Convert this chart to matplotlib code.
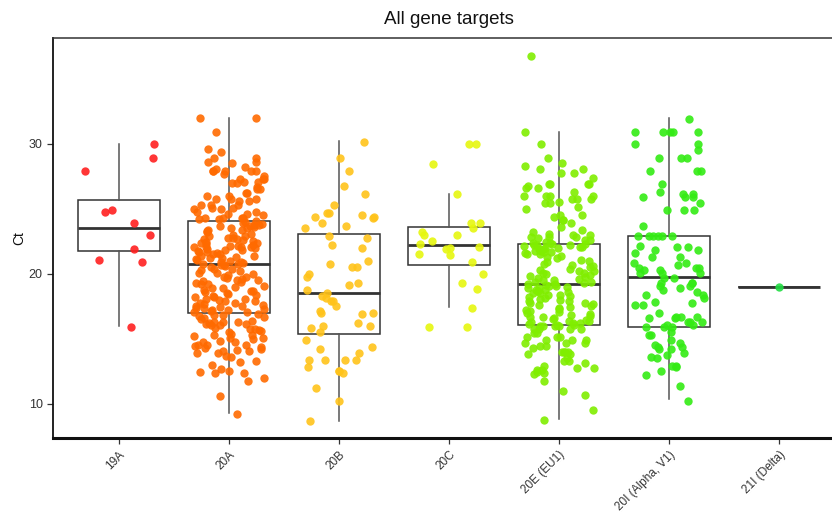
import matplotlib
matplotlib.use("Agg")
import matplotlib.pyplot as plt
import matplotlib.transforms as mtransforms
import numpy as np

plt.rcParams['font.family'] = ['Liberation Sans', 'DejaVu Sans']

categories = ['19A', '20A', '20B', '20C', '20E (EU1)', '20I (Alpha, V1)', '21I (Delta)']
colors = ['#FF2020', '#FF6A00', '#FFC31A', '#E6F70F', '#80EE00', '#33EB14', '#22DD44']

ct_19A = [30.0, 28.95, 27.9, 24.9, 24.75, 23.9, 23.0, 21.95, 21.1, 20.9, 15.95]

ct_20A = [
    31.97, 31.97, 30.9, 29.6, 29.4, 28.95, 28.95, 28.6, 28.6, 28.5, 28.2, 28.05,
    27.9, 27.9, 27.9, 27.9, 27.9, 27.7, 27.5, 27.3, 27.3, 27.3, 27.1, 27.1, 27.0,
    27.0, 26.7, 26.5, 26.5, 26.2, 26.2, 26.0, 26.0, 25.8, 25.8, 25.8, 25.6, 25.6,
    25.3, 25.3, 25.3, 25.1, 25.1, 25.0, 25.0, 24.8, 24.8, 24.6, 24.6, 24.5, 24.3,
    24.3, 24.3, 24.3, 24.2, 24.2,
    24.0, 24.05, 23.9, 23.8, 23.75, 23.85, 23.7, 23.6, 23.55, 23.65, 23.5, 23.4,
    23.3, 23.35, 23.2, 23.0, 23.05, 22.95, 22.9, 22.8, 22.7, 22.75, 22.65, 22.6,
    22.5, 22.4, 22.45, 22.35, 22.3, 22.2, 22.1, 22.15, 22.05, 22.1, 22.12, 22.08,
    22.0, 21.9, 21.85, 21.8, 21.88, 21.7, 21.6, 21.65, 21.55, 21.5, 21.4, 21.3,
    21.35, 21.25, 21.2, 21.1, 21.15, 21.0, 20.9, 20.95, 20.85, 20.8,
    20.75, 20.7, 20.6, 20.65, 20.5, 20.4, 20.3, 20.35, 20.2, 20.1, 20.0, 20.05,
    19.9, 19.8, 19.7, 19.75, 19.6, 19.5, 19.4, 19.45, 19.3, 19.2, 19.25, 19.1,
    19.0, 18.9, 18.95, 18.8, 18.7, 18.6, 18.65, 18.5, 18.4, 18.3, 18.2, 18.25,
    18.1, 18.0, 18.05, 17.9, 17.95, 17.8, 17.7, 17.75, 17.6, 17.5, 17.55, 17.4,
    17.45, 17.3, 17.35, 17.2, 17.25, 17.1, 17.15, 17.05, 19.55, 18.45,
    16.9, 16.85, 16.8, 16.88, 16.6, 16.65, 16.55, 16.3, 16.35, 16.25, 16.32, 16.28,
    16.1, 16.15, 16.05, 16.12, 15.8, 15.85, 15.75, 15.6, 15.65, 15.55, 15.3, 15.35,
    15.25, 15.32, 15.05, 15.1, 15.0, 14.8, 14.85, 14.75, 14.5, 14.55, 14.45, 14.52,
    14.3, 14.35, 14.25, 14.1, 14.15, 14.05, 13.9, 13.95, 13.6, 13.65, 13.25, 13.3,
    13.0, 12.7, 12.5, 12.4, 12.45, 12.35, 12.0, 11.8, 10.6, 9.25]

ct_20B = [30.18, 28.95, 27.92, 26.8, 26.15, 25.3, 24.67, 24.67, 24.54, 24.36, 24.36,
          24.28, 23.9, 23.7, 23.56, 22.92, 22.8, 22.23, 22.03, 21.03, 20.74, 20.56,
          20.56, 19.97, 19.8, 19.33, 19.15, 18.77, 18.51, 18.33, 18.13, 17.95, 17.95,
          17.56, 17.18, 17.0, 17.0, 16.92, 16.26, 16.0, 16.0, 15.87, 15.56, 14.92,
          14.36, 14.23, 13.9, 13.38, 13.38, 13.38, 13.38, 12.82, 12.56, 12.56, 12.41,
          11.2, 10.26, 8.69]

ct_20C = [29.97, 29.97, 28.49, 26.15, 23.95, 23.95, 23.56, 23.2, 22.97, 22.97, 22.54,
          22.33, 22.1, 21.97, 21.95, 21.56, 21.49, 20.92, 19.97, 19.33, 18.87, 17.36,
          15.95, 15.95]

ct_20E = [
    36.8, 30.9, 29.97, 28.95, 28.56, 28.3, 28.05, 28.05, 27.8, 27.8, 27.4, 26.9,
    26.9, 26.9, 26.9, 26.77, 26.6, 26.6, 26.33, 26.0, 26.0, 26.0, 26.0, 25.74,
    25.74, 25.74, 25.56, 25.44, 25.44, 25.18, 24.97, 24.54, 24.54, 24.36, 24.15,
    24.15, 23.9, 23.64, 23.4, 23.26, 23.1, 23.0, 23.0, 22.87, 22.87, 22.87, 22.74,
    22.6, 22.6, 22.49,
    22.4, 22.35, 22.3, 22.3, 22.25, 22.2, 22.2, 22.15, 22.1, 22.05, 22.0, 22.0,
    21.95, 21.9, 21.85, 21.8, 21.75, 21.7, 21.65, 21.6, 21.55, 21.5, 21.4, 21.3,
    21.2, 21.1, 21.0, 20.9, 20.8, 20.7, 20.6, 20.5, 20.4, 20.3, 20.25, 20.2, 20.1,
    20.05, 20.0, 19.9, 19.85, 19.8, 19.7, 19.6, 19.55, 19.5, 19.4, 19.35, 19.3, 19.25,
    19.2, 19.15, 19.1, 19.05, 19.0, 18.95, 18.9, 18.8, 18.75, 18.7, 18.6, 18.55,
    18.5, 18.4, 18.35, 18.3, 18.2, 18.15, 18.1, 18.0, 17.95, 17.9, 17.8, 17.75,
    17.7, 17.6, 17.5, 17.45, 17.4, 17.3, 17.2, 17.15, 17.1, 17.0, 16.9, 16.85,
    16.8, 16.7, 16.65, 16.6, 16.5, 16.45, 16.4, 16.35, 16.3, 16.25, 16.2, 16.15,
    16.1, 16.1,
    16.0, 16.0, 16.0, 16.0, 15.74, 15.74, 15.74, 15.74, 15.49, 15.49, 15.18, 15.18,
    15.18, 14.92, 14.92, 14.92, 14.72, 14.72, 14.72, 14.46, 14.46, 14.28, 14.03,
    14.03, 14.03, 14.03, 13.82, 13.82, 13.51, 13.33, 13.33, 13.13, 12.95, 12.74,
    12.74, 12.6, 12.6, 12.49, 12.41, 12.3, 11.77, 11.03, 10.69, 9.51, 8.77]

ct_20I = [31.92, 30.9, 30.9, 30.9, 30.9, 30.9, 29.97, 29.97, 29.51, 28.95, 28.95,
          28.95, 27.92, 27.92, 27.92, 26.9, 26.33, 26.15, 26.15, 25.95, 25.95, 25.95,
          25.49, 24.92, 24.92, 24.92, 23.72, 22.95, 22.95, 22.95, 22.95, 22.95, 22.95,
          22.18, 22.1, 22.1, 21.85, 21.85, 21.6, 21.33, 21.33, 20.87, 20.87, 20.69,
          20.44, 20.44, 20.44, 20.3, 20.3, 20.05, 20.05, 20.05, 19.72, 19.72, 19.28,
          19.28, 19.28, 19.08, 19.08, 18.9, 18.77, 18.64, 18.38, 18.38, 18.13, 17.87,
          17.74, 17.62, 17.62, 17.03, 16.72, 16.72, 16.72, 16.59, 16.59, 16.33, 16.33,
          16.33, 16.08, 16.08, 15.95, 15.95, 15.95, 15.56, 15.31, 15.31, 14.92, 14.72,
          14.54, 14.36, 14.36, 14.2, 14.2, 13.95, 13.77, 13.59, 13.51, 12.92, 12.92,
          12.82, 12.56, 12.23, 11.38, 10.23]

ct_21I = [19.0]

# box statistics
box_q1 = [21.8, 17.0, 15.4, 20.7, 16.1, 15.95, 19.0]
box_med = [23.5, 20.8, 18.5, 22.25, 19.2, 19.75, 19.0]
box_q3 = [25.7, 24.1, 23.1, 23.6, 22.3, 22.95, 19.0]
whisk_lo = [16.0, 9.3, 8.7, 17.45, 8.85, 10.35, 19.0]
whisk_hi = [30.0, 32.0, 30.2, 26.15, 30.95, 32.0, 19.0]

groups = [ct_19A, ct_20A, ct_20B, ct_20C, ct_20E, ct_20I, ct_21I]

fig = plt.figure(figsize=(8.32, 5.19), dpi=100)
ax = fig.add_axes([53 / 832, 81 / 519, 792 / 832, 400 / 519])

positions = np.arange(1, len(categories) + 1)
stats = []
for i in range(len(categories)):
    stats.append(dict(med=box_med[i], q1=box_q1[i], q3=box_q3[i],
                      whislo=whisk_lo[i], whishi=whisk_hi[i], fliers=[]))
ax.bxp(stats, positions=positions, widths=0.75, showcaps=False, showfliers=False,
       patch_artist=True,
       boxprops=dict(facecolor='none', edgecolor='#333333', linewidth=1.1),
       medianprops=dict(color='#333333', linewidth=2.0),
       whiskerprops=dict(color='#555555', linewidth=1.1), zorder=1)


def jitter_offsets(n, salt, width=0.32):
    # deterministic integer-hash jitter (horizontal position only)
    k = (np.arange(n, dtype=np.uint64) + np.uint64(salt * 1000 + 1))
    h = (k * np.uint64(2654435761)) & np.uint64(0xFFFFFFFF)
    h ^= h >> np.uint64(16)
    h = (h * np.uint64(0x45D9F3B)) & np.uint64(0xFFFFFFFF)
    h ^= h >> np.uint64(16)
    h = (h * np.uint64(0x45D9F3B)) & np.uint64(0xFFFFFFFF)
    h ^= h >> np.uint64(16)
    frac = h.astype(np.float64) / 4294967296.0
    return (frac - 0.5) * 2 * width


for i, vals in enumerate(groups):
    vals = np.asarray(vals, dtype=float)
    n = len(vals)
    jit = jitter_offsets(n, i + 3) if n > 1 else np.zeros(1)
    ax.scatter(positions[i] + jit, vals, s=36, color=colors[i], alpha=0.9,
               linewidths=0, zorder=3)

ax.set_xlim(0.4, 7.6)
ax.set_ylim(7.38, 38.15)
ax.set_yticks([10, 20, 30])
ax.set_xticks(positions)
ax.set_xticklabels(categories, rotation=45, ha='right', va='top',
                   rotation_mode='anchor', fontsize=8.5, color='#333333')
offset = mtransforms.ScaledTranslation(6 / 100, -2 / 100, fig.dpi_scale_trans)
for lab in ax.get_xticklabels():
    lab.set_transform(lab.get_transform() + offset)
ax.tick_params(axis='y', labelsize=9, colors='#333333', length=4, width=0.9)
ax.tick_params(axis='x', length=4, width=0.9, colors='#333333')
for lab in ax.get_yticklabels():
    lab.set_color('#333333')

ax.spines['left'].set_linewidth(1.3)
ax.spines['left'].set_color('#111111')
ax.spines['bottom'].set_linewidth(2.2)
ax.spines['bottom'].set_color('#111111')
ax.spines['top'].set_linewidth(1.1)
ax.spines['top'].set_color('#333333')
ax.spines['right'].set_visible(False)

ax.set_ylabel('Ct', fontsize=10, color='#111111', labelpad=2)
fig.text(449 / 832, 1 - 20 / 519, 'All gene targets', ha='center', va='center',
         fontsize=13.5, color='#111111')

fig.savefig('out.png', dpi=100)
